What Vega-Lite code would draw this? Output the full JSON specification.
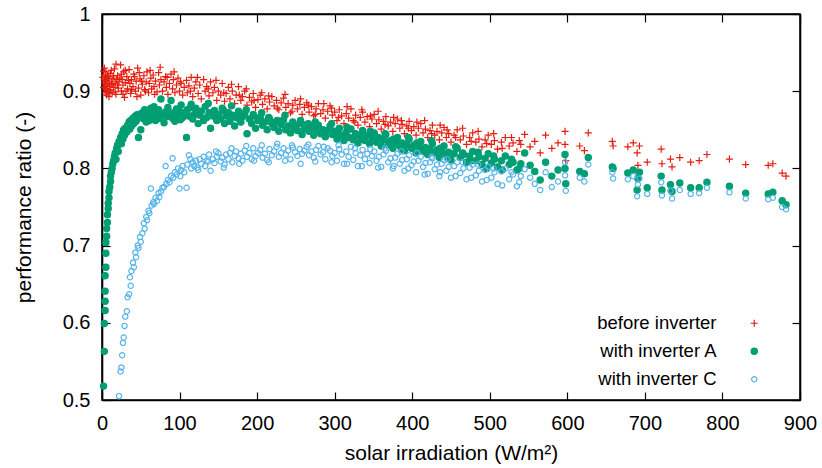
{
"$schema": "https://vega.github.io/schema/vega-lite/v6.json",
"width": 698, "height": 386,
"autosize": "none",
"padding": {"left": 102, "top": 14, "right": 22, "bottom": 68},
"background": "white",
"config": {
  "font": "Liberation Sans",
  "view": {"stroke": "#000", "strokeWidth": 1.5},
  "axis": {"grid": false, "domain": true, "domainColor": "#000", "domainWidth": 1.6, "ticks": true, "tickColor": "#000", "tickSize": -8, "tickWidth": 1.2, "labelFlush": false, "labelFontSize": 20, "labelColor": "#000", "titleFontSize": 21, "titleFontWeight": "normal", "titleColor": "#000", "labelFont": "Liberation Sans", "titleFont": "Liberation Sans"}
},
"resolve": {"axis": {"x": "independent", "y": "independent"}},
"layer": [
{
"data": {"values": [
{"x":2,"before":0.926,"withA":0.518},
{"x":3,"before":0.915,"withA":0.563},
{"x":3,"before":0.905,"withA":0.599},
{"x":4,"before":0.91,"withA":0.616},
{"x":4,"before":0.92,"withA":0.628},
{"x":4,"before":0.898,"withA":0.641},
{"x":4,"before":0.912,"withA":0.661},
{"x":5,"before":0.903,"withA":0.672},
{"x":5,"before":0.918,"withA":0.69},
{"x":5,"before":0.908,"withA":0.704},
{"x":6,"before":0.895,"withA":0.712},
{"x":6,"before":0.914,"withA":0.722},
{"x":7,"before":0.921,"withA":0.73},
{"x":7,"before":0.906,"withA":0.74},
{"x":8,"before":0.91,"withA":0.748},
{"x":8,"before":0.9,"withA":0.755},
{"x":9,"before":0.916,"withA":0.762},
{"x":9,"before":0.893,"withA":0.77},
{"x":10,"before":0.907,"withA":0.776},
{"x":11,"before":0.923,"withA":0.783},
{"x":11,"before":0.902,"withA":0.79},
{"x":12,"before":0.912,"withA":0.795},
{"x":13,"before":0.898,"withA":0.8},
{"x":14,"before":0.917,"withA":0.806},
{"x":15,"before":0.905,"withA":0.81},
{"x":16,"before":0.929,"withA":0.815},
{"x":17,"before":0.91,"withA":0.82},
{"x":18,"before":0.896,"withA":0.812},
{"x":19,"before":0.915,"withA":0.826},
{"x":20,"before":0.92,"withA":0.83},
{"x":21,"before":0.904,"withA":0.822},
{"x":1,"before":0.918},{"x":2,"before":0.905},{"x":3,"before":0.93},{"x":5,"before":0.925},{"x":6,"before":0.9},
{"x":8,"before":0.919},{"x":10,"before":0.897},{"x":12,"before":0.927},{"x":13,"before":0.909},{"x":15,"before":0.92},
{"x":17,"before":0.899},{"x":18,"before":0.935},{"x":20,"before":0.908},{"x":23,"before":0.917},{"x":25,"before":0.922},
{"x":27,"before":0.896},{"x":30,"before":0.927},{"x":31,"before":0.9},{"x":34,"before":0.914},{"x":38,"before":0.902},
{"x":42,"before":0.919},{"x":45,"before":0.893},{"x":48,"before":0.924},{"x":51,"before":0.913},{"x":56,"before":0.9},
{"x":62,"before":0.927},{"x":68,"before":0.896},{"x":75,"before":0.931},{"x":84,"before":0.918},{"x":93,"before":0.925},
{"x":22,"before":0.912,"withA":0.835,"withC":0.505},
{"x":24,"before":0.934,"withA":0.84,"withC":0.537},
{"x":25,"before":0.9,"withA":0.832,"withC":0.542},
{"x":26,"before":0.915,"withA":0.845,"withC":0.558},
{"x":27,"before":0.908,"withA":0.838,"withC":0.574},
{"x":28,"before":0.925,"withA":0.85,"withC":0.581},
{"x":29,"before":0.892,"withA":0.843,"withC":0.596},
{"x":30,"before":0.911,"withA":0.852,"withC":0.608},
{"x":32,"before":0.919,"withA":0.847,"withC":0.615},
{"x":33,"before":0.903,"withA":0.856,"withC":0.633},
{"x":35,"before":0.928,"withA":0.86,"withC":0.637},
{"x":36,"before":0.91,"withA":0.851,"withC":0.659},
{"x":37,"before":0.897,"withA":0.862,"withC":0.648},
{"x":38,"before":0.915,"withA":0.855,"withC":0.667},
{"x":40,"before":0.906,"withA":0.865,"withC":0.678},
{"x":41,"before":0.922,"withA":0.858,"withC":0.672},
{"x":43,"before":0.9,"withA":0.868,"withC":0.691},
{"x":44,"before":0.913,"withA":0.861,"withC":0.685},
{"x":46,"before":0.93,"withA":0.87,"withC":0.7},
{"x":47,"before":0.904,"withA":0.84,"withC":0.697},
{"x":49,"before":0.916,"withA":0.866,"withC":0.711},
{"x":50,"before":0.895,"withA":0.85,"withC":0.705},
{"x":52,"before":0.909,"withA":0.872,"withC":0.716},
{"x":54,"before":0.92,"withA":0.864,"withC":0.729},
{"x":55,"before":0.902,"withA":0.876,"withC":0.722},
{"x":57,"before":0.912,"withA":0.86,"withC":0.737},
{"x":58,"before":0.925,"withA":0.868,"withC":0.733},
{"x":60,"before":0.898,"withA":0.873,"withC":0.745},
{"x":61,"before":0.91,"withA":0.862,"withC":0.742},
{"x":63,"before":0.917,"withA":0.878,"withC":0.774},
{"x":64,"before":0.903,"withA":0.866,"withC":0.752},
{"x":66,"before":0.921,"withA":0.871,"withC":0.756},
{"x":67,"before":0.906,"withA":0.88,"withC":0.754},
{"x":69,"before":0.913,"withA":0.862,"withC":0.762},
{"x":71,"before":0.899,"withA":0.869,"withC":0.758},
{"x":73,"before":0.924,"withA":0.876,"withC":0.768},
{"x":74,"before":0.908,"withA":0.865,"withC":0.763},
{"x":76,"before":0.915,"withA":0.89,"withC":0.77},
{"x":78,"before":0.9,"withA":0.87,"withC":0.775},
{"x":80,"before":0.912,"withA":0.859,"withC":0.776},
{"x":82,"before":0.919,"withA":0.873,"withC":0.803},
{"x":83,"before":0.905,"withA":0.867,"withC":0.78},
{"x":85,"before":0.896,"withA":0.879,"withC":0.785},
{"x":87,"before":0.91,"withA":0.87,"withC":0.782},
{"x":89,"before":0.922,"withA":0.888,"withC":0.79},
{"x":91,"before":0.903,"withA":0.865,"withC":0.813},
{"x":92,"before":0.915,"withA":0.872,"withC":0.788},
{"x":94,"before":0.898,"withA":0.861,"withC":0.795},
{"x":96,"before":0.908,"withA":0.877,"withC":0.792},
{"x":98,"before":0.917,"withA":0.868,"withC":0.8},
{"x":100,"before":0.9,"withA":0.874,"withC":0.774},
{"x":101,"before":0.912,"withA":0.863,"withC":0.79},
{"x":102,"before":0.91,"withA":0.882,"withC":0.798},
{"x":104,"before":0.895,"withA":0.866,"withC":0.803},
{"x":106,"before":0.905,"withA":0.872,"withC":0.795},
{"x":109,"before":0.914,"withA":0.84,"withC":0.775},
{"x":110,"before":0.898,"withA":0.876,"withC":0.805},
{"x":112,"before":0.907,"withA":0.868,"withC":0.817},
{"x":114,"before":0.9,"withA":0.879,"withC":0.812},
{"x":115,"before":0.918,"withA":0.883,"withC":0.8},
{"x":117,"before":0.893,"withA":0.864,"withC":0.808},
{"x":119,"before":0.904,"withA":0.87,"withC":0.803},
{"x":121,"before":0.912,"withA":0.878,"withC":0.81},
{"x":123,"before":0.918,"withA":0.871,"withC":0.801},
{"x":124,"before":0.897,"withA":0.858,"withC":0.798},
{"x":126,"before":0.908,"withA":0.869,"withC":0.812},
{"x":128,"before":0.89,"withA":0.874,"withC":0.806},
{"x":131,"before":0.915,"withA":0.862,"withC":0.815},
{"x":133,"before":0.9,"withA":0.88,"withC":0.803},
{"x":135,"before":0.906,"withA":0.866,"withC":0.81},
{"x":137,"before":0.903,"withA":0.884,"withC":0.809},
{"x":138,"before":0.894,"withA":0.872,"withC":0.818},
{"x":140,"before":0.912,"withA":0.852,"withC":0.797},
{"x":143,"before":0.898,"withA":0.868,"withC":0.812},
{"x":145,"before":0.905,"withA":0.875,"withC":0.807},
{"x":147,"before":0.914,"withA":0.87,"withC":0.822},
{"x":148,"before":0.888,"withA":0.862,"withC":0.815},
{"x":150,"before":0.9,"withA":0.87,"withC":0.82},
{"x":153,"before":0.895,"withA":0.864,"withC":0.809},
{"x":155,"before":0.91,"withA":0.878,"withC":0.814},
{"x":157,"before":0.898,"withA":0.875,"withC":0.801},
{"x":158,"before":0.887,"withA":0.858,"withC":0.805},
{"x":160,"before":0.897,"withA":0.868,"withC":0.818},
{"x":163,"before":0.905,"withA":0.872,"withC":0.812},
{"x":165,"before":0.89,"withA":0.861,"withC":0.82},
{"x":167,"before":0.909,"withA":0.881,"withC":0.826},
{"x":168,"before":0.9,"withA":0.869,"withC":0.808},
{"x":171,"before":0.884,"withA":0.855,"withC":0.816},
{"x":173,"before":0.895,"withA":0.866,"withC":0.822},
{"x":176,"before":0.906,"withA":0.874,"withC":0.813},
{"x":177,"before":0.895,"withA":0.864,"withC":0.806},
{"x":179,"before":0.888,"withA":0.86,"withC":0.819},
{"x":181,"before":0.893,"withA":0.867,"withC":0.81},
{"x":184,"before":0.9,"withA":0.871,"withC":0.823},
{"x":186,"before":0.903,"withA":0.876,"withC":0.829},
{"x":187,"before":0.882,"withA":0.845,"withC":0.815},
{"x":190,"before":0.892,"withA":0.864,"withC":0.82},
{"x":193,"before":0.886,"withA":0.858,"withC":0.812},
{"x":195,"before":0.897,"withA":0.87,"withC":0.826},
{"x":196,"before":0.888,"withA":0.868,"withC":0.81},
{"x":198,"before":0.879,"withA":0.852,"withC":0.816},
{"x":201,"before":0.889,"withA":0.862,"withC":0.82},
{"x":204,"before":0.895,"withA":0.866,"withC":0.824},
{"x":206,"before":0.898,"withA":0.872,"withC":0.83},
{"x":207,"before":0.883,"withA":0.856,"withC":0.814},
{"x":210,"before":0.89,"withA":0.86,"withC":0.819},
{"x":213,"before":0.877,"withA":0.85,"withC":0.811},
{"x":215,"before":0.894,"withA":0.866,"withC":0.808},
{"x":216,"before":0.886,"withA":0.864,"withC":0.825},
{"x":219,"before":0.893,"withA":0.858,"withC":0.817},
{"x":222,"before":0.881,"withA":0.853,"withC":0.822},
{"x":225,"before":0.888,"withA":0.861,"withC":0.828},
{"x":226,"before":0.878,"withA":0.862,"withC":0.832},
{"x":228,"before":0.876,"withA":0.848,"withC":0.815},
{"x":231,"before":0.885,"withA":0.857,"withC":0.82},
{"x":234,"before":0.891,"withA":0.863,"withC":0.826},
{"x":236,"before":0.896,"withA":0.869,"withC":0.81},
{"x":237,"before":0.879,"withA":0.85,"withC":0.818},
{"x":240,"before":0.884,"withA":0.855,"withC":0.823},
{"x":243,"before":0.872,"withA":0.846,"withC":0.812},
{"x":245,"before":0.874,"withA":0.855,"withC":0.83},
{"x":246,"before":0.882,"withA":0.86,"withC":0.827},
{"x":249,"before":0.888,"withA":0.853,"withC":0.821},
{"x":252,"before":0.877,"withA":0.849,"withC":0.816},
{"x":255,"before":0.883,"withA":0.858,"withC":0.825},
{"x":256,"before":0.89,"withA":0.862,"withC":0.806},
{"x":258,"before":0.87,"withA":0.844,"withC":0.819},
{"x":261,"before":0.879,"withA":0.852,"withC":0.823},
{"x":264,"before":0.885,"withA":0.857,"withC":0.828},
{"x":266,"before":0.882,"withA":0.858,"withC":0.831},
{"x":267,"before":0.873,"withA":0.848,"withC":0.817},
{"x":270,"before":0.88,"withA":0.854,"withC":0.822},
{"x":273,"before":0.868,"withA":0.843,"withC":0.814},
{"x":275,"before":0.87,"withA":0.86,"withC":0.809},
{"x":276,"before":0.877,"withA":0.851,"withC":0.824},
{"x":279,"before":0.884,"withA":0.856,"withC":0.829},
{"x":282,"before":0.871,"withA":0.845,"withC":0.818},
{"x":285,"before":0.876,"withA":0.85,"withC":0.821},
{"x":286,"before":0.884,"withA":0.846,"withC":0.828},
{"x":288,"before":0.865,"withA":0.841,"withC":0.812},
{"x":291,"before":0.874,"withA":0.849,"withC":0.826},
{"x":294,"before":0.881,"withA":0.855,"withC":0.823},
{"x":296,"before":0.878,"withA":0.858,"withC":0.808},
{"x":297,"before":0.869,"withA":0.844,"withC":0.816},
{"x":300,"before":0.873,"withA":0.848,"withC":0.82},
{"x":303,"before":0.862,"withA":0.838,"withC":0.81},
{"x":305,"before":0.866,"withA":0.845,"withC":0.83},
{"x":306,"before":0.876,"withA":0.852,"withC":0.825},
{"x":309,"before":0.868,"withA":0.843,"withC":0.818},
{"x":312,"before":0.858,"withA":0.836,"withC":0.806},
{"x":315,"before":0.871,"withA":0.847,"withC":0.822},
{"x":316,"before":0.88,"withA":0.853,"withC":0.806},
{"x":318,"before":0.865,"withA":0.84,"withC":0.815},
{"x":321,"before":0.877,"withA":0.851,"withC":0.828},
{"x":324,"before":0.862,"withA":0.837,"withC":0.811},
{"x":326,"before":0.86,"withA":0.842,"withC":0.826},
{"x":327,"before":0.869,"withA":0.845,"withC":0.82},
{"x":330,"before":0.856,"withA":0.833,"withC":0.803},
{"x":333,"before":0.866,"withA":0.842,"withC":0.817},
{"x":335,"before":0.876,"withA":0.838,"withC":0.803},
{"x":336,"before":0.873,"withA":0.849,"withC":0.824},
{"x":339,"before":0.86,"withA":0.836,"withC":0.812},
{"x":342,"before":0.867,"withA":0.843,"withC":0.819},
{"x":345,"before":0.854,"withA":0.832,"withC":0.807},
{"x":346,"before":0.868,"withA":0.848,"withC":0.825},
{"x":348,"before":0.864,"withA":0.84,"withC":0.816},
{"x":351,"before":0.87,"withA":0.846,"withC":0.822},
{"x":354,"before":0.858,"withA":0.834,"withC":0.81},
{"x":356,"before":0.874,"withA":0.84,"withC":0.801},
{"x":357,"before":0.863,"withA":0.839,"withC":0.815},
{"x":360,"before":0.851,"withA":0.829,"withC":0.802},
{"x":363,"before":0.861,"withA":0.837,"withC":0.818},
{"x":365,"before":0.857,"withA":0.845,"withC":0.826},
{"x":366,"before":0.867,"withA":0.844,"withC":0.823},
{"x":369,"before":0.855,"withA":0.831,"withC":0.808},
{"x":372,"before":0.86,"withA":0.836,"withC":0.813},
{"x":375,"before":0.848,"withA":0.826,"withC":0.8},
{"x":376,"before":0.866,"withA":0.838,"withC":0.803},
{"x":378,"before":0.858,"withA":0.834,"withC":0.814},
{"x":381,"before":0.864,"withA":0.84,"withC":0.819},
{"x":384,"before":0.852,"withA":0.829,"withC":0.806},
{"x":386,"before":0.862,"withA":0.825,"withC":0.822},
{"x":387,"before":0.857,"withA":0.833,"withC":0.811},
{"x":390,"before":0.845,"withA":0.823,"withC":0.797},
{"x":393,"before":0.855,"withA":0.831,"withC":0.812},
{"x":395,"before":0.852,"withA":0.84,"withC":0.8},
{"x":396,"before":0.861,"withA":0.838,"withC":0.817},
{"x":399,"before":0.849,"withA":0.826,"withC":0.804},
{"x":402,"before":0.854,"withA":0.83,"withC":0.809},
{"x":405,"before":0.843,"withA":0.82,"withC":0.795},
{"x":406,"before":0.86,"withA":0.833,"withC":0.82},
{"x":408,"before":0.852,"withA":0.828,"withC":0.81},
{"x":411,"before":0.858,"withA":0.835,"withC":0.815},
{"x":414,"before":0.846,"withA":0.823,"withC":0.802},
{"x":416,"before":0.862,"withA":0.822,"withC":0.792},
{"x":417,"before":0.851,"withA":0.827,"withC":0.807},
{"x":420,"before":0.84,"withA":0.818,"withC":0.793},
{"x":423,"before":0.849,"withA":0.825,"withC":0.808},
{"x":425,"before":0.845,"withA":0.836,"withC":0.815},
{"x":426,"before":0.856,"withA":0.832,"withC":0.813},
{"x":429,"before":0.843,"withA":0.82,"withC":0.799},
{"x":432,"before":0.848,"withA":0.824,"withC":0.805},
{"x":435,"before":0.837,"withA":0.814,"withC":0.79},
{"x":436,"before":0.856,"withA":0.826,"withC":0.795},
{"x":438,"before":0.846,"withA":0.822,"withC":0.806},
{"x":441,"before":0.853,"withA":0.829,"withC":0.811},
{"x":444,"before":0.84,"withA":0.817,"withC":0.797},
{"x":445,"before":0.85,"withA":0.815,"withC":0.812},
{"x":447,"before":0.845,"withA":0.821,"withC":0.802},
{"x":450,"before":0.834,"withA":0.811,"withC":0.788},
{"x":454,"before":0.843,"withA":0.819,"withC":0.803},
{"x":456,"before":0.84,"withA":0.828,"withC":0.79},
{"x":458,"before":0.85,"withA":0.826,"withC":0.808},
{"x":462,"before":0.837,"withA":0.814,"withC":0.794},
{"x":465,"before":0.852,"withA":0.82,"withC":0.808},
{"x":466,"before":0.842,"withA":0.818,"withC":0.8},
{"x":470,"before":0.831,"withA":0.808,"withC":0.786},
{"x":474,"before":0.84,"withA":0.816,"withC":0.801},
{"x":476,"before":0.835,"withA":0.81,"withC":0.788},
{"x":478,"before":0.846,"withA":0.822,"withC":0.805},
{"x":482,"before":0.834,"withA":0.81,"withC":0.791},
{"x":485,"before":0.848,"withA":0.821,"withC":0.805},
{"x":486,"before":0.838,"withA":0.815,"withC":0.797},
{"x":490,"before":0.828,"withA":0.805,"withC":0.783},
{"x":494,"before":0.837,"withA":0.813,"withC":0.798},
{"x":496,"before":0.832,"withA":0.8,"withC":0.785},
{"x":498,"before":0.843,"withA":0.819,"withC":0.802},
{"x":502,"before":0.831,"withA":0.807,"withC":0.788},
{"x":505,"before":0.845,"withA":0.816,"withC":0.8},
{"x":506,"before":0.836,"withA":0.812,"withC":0.795},
{"x":510,"before":0.825,"withA":0.802,"withC":0.78},
{"x":515,"before":0.834,"withA":0.81,"withC":0.796},
{"x":516,"before":0.826,"withA":0.798,"withC":0.778},
{"x":520,"before":0.84,"withA":0.816,"withC":0.8},
{"x":525,"before":0.829,"withA":0.805,"withC":0.786},
{"x":528,"before":0.84,"withA":0.812,"withC":0.795},
{"x":530,"before":0.833,"withA":0.808,"withC":0.792},
{"x":535,"before":0.822,"withA":0.798,"withC":0.777},
{"x":538,"before":0.836,"withA":0.8,"withC":0.782},
{"x":540,"before":0.831,"withA":0.806,"withC":0.79},
{"x":545,"before":0.844,"withA":0.82,"withC":0.799},
{"x":552,"before":0.828,"withA":0.804,"withC":0.788},
{"x":558,"before":0.835,"withA":0.796,"withC":0.78},
{"x":565,"before":0.82,"withA":0.785,"withC":0.772},
{"x":572,"before":0.843,"withA":0.808,"withC":0.795},
{"x":580,"before":0.826,"withA":0.79,"withC":0.776},
{"x":588,"before":0.833,"withA":0.798,"withC":0.783},
{"x":597,"before":0.848,"withA":0.818,"withC":0.808},
{"x":597,"before":0.831,"withA":0.8,"withC":0.791},
{"x":598,"before":0.81,"withA":0.78,"withC":0.771},
{"x":616,"before":0.829,"withA":0.796,"withC":0.788},
{"x":622,"before":0.823,"withA":0.793,"withC":0.783},
{"x":627,"before":0.846,"withA":0.814,"withC":0.805},
{"x":658,"before":0.835,"withA":0.802,"withC":0.795},
{"x":659,"before":0.829,"withA":0.8,"withC":0.787},
{"x":678,"before":0.828,"withA":0.794,"withC":0.786},
{"x":685,"before":0.833,"withA":0.798,"withC":0.79},
{"x":690,"before":0.82,"withA":0.772,"withC":0.764},
{"x":691,"before":0.804,"withA":0.787,"withC":0.779},
{"x":693,"before":0.829,"withA":0.795,"withC":0.787},
{"x":703,"before":0.808,"withA":0.775,"withC":0.767},
{"x":721,"before":0.825,"withA":0.79,"withC":0.782},
{"x":722,"before":0.806,"withA":0.772,"withC":0.765},
{"x":733,"before":0.812,"withA":0.779,"withC":0.771},
{"x":735,"before":0.802,"withA":0.77,"withC":0.761},
{"x":745,"before":0.814,"withA":0.781,"withC":0.772},
{"x":759,"before":0.808,"withA":0.775,"withC":0.767},
{"x":770,"before":0.81,"withA":0.775,"withC":0.768},
{"x":780,"before":0.818,"withA":0.782,"withC":0.775},
{"x":809,"before":0.812,"withA":0.777,"withC":0.769},
{"x":830,"before":0.805,"withA":0.768,"withC":0.761},
{"x":859,"before":0.804,"withA":0.767,"withC":0.76},
{"x":865,"before":0.806,"withA":0.769,"withC":0.762},
{"x":877,"before":0.794,"withA":0.758,"withC":0.75},
{"x":882,"before":0.79,"withA":0.753,"withC":0.747}
]},
"transform": [
  {"fold": ["before", "withA", "withC"], "as": ["series", "pr"]},
  {"filter": "isValid(datum.pr)"}
],
"mark": {"type": "point", "strokeWidth": 1.2, "opacity": 1},
"encoding": {
  "x": {"field": "x", "type": "quantitative", "scale": {"domain": [0, 900], "nice": false},
        "axis": {"values": [0,100,200,300,400,500,600,700,800,900], "labelPadding": 21, "title": "solar irradiation (W/m²)", "titlePadding": 9}},
  "y": {"field": "pr", "type": "quantitative", "scale": {"domain": [0.5, 1], "nice": false, "zero": false},
        "axis": {"values": [0.5,0.6,0.7,0.8,0.9,1], "labelExpr": "datum.value == 1 ? '1' : format(datum.value, '.1f')", "labelPadding": 20, "title": "performance ratio (-)", "titlePadding": 28}},
  "stroke": {"field": "series", "type": "nominal",
     "scale": {"domain": ["before", "withA", "withC"], "range": ["#e51e10", "#009e73", "#56b4e9"]},
     "legend": {"orient": "none", "legendX": 643, "legendY": 300, "title": null, "labelFontSize": 18.5, "labelColor": "#000", "labelAlign": "right", "labelOffset": -47, "labelLimit": 0, "rowPadding": 9, "symbolStrokeWidth": 1.2,
       "labelExpr": "datum.value == 'before' ? 'before inverter' : datum.value == 'withA' ? 'with inverter A' : 'with inverter C'"}},
  "fill": {"field": "series", "type": "nominal",
     "scale": {"domain": ["before", "withA", "withC"], "range": ["transparent", "#009e73", "transparent"]}},
  "shape": {"field": "series", "type": "nominal",
     "scale": {"domain": ["before", "withA", "withC"], "range": ["M-1,0L1,0M0,-1L0,1", "circle", "circle"]}},
  "size": {"field": "series", "type": "nominal",
     "scale": {"domain": ["before", "withA", "withC"], "range": [50, 28, 18]}},
  "order": {"field": "series", "type": "nominal"}
}
},
{
"data": {"values": [{"x": 0}]},
"mark": {"type": "point", "opacity": 0},
"encoding": {
  "x": {"datum": 0, "type": "quantitative", "axis": {"orient": "top", "labels": false, "title": null, "values": [0,100,200,300,400,500,600,700,800,900]}},
  "y": {"datum": 0.5, "type": "quantitative", "axis": {"orient": "right", "labels": false, "title": null, "values": [0.5,0.6,0.7,0.8,0.9,1]}}
}
}
]
}
